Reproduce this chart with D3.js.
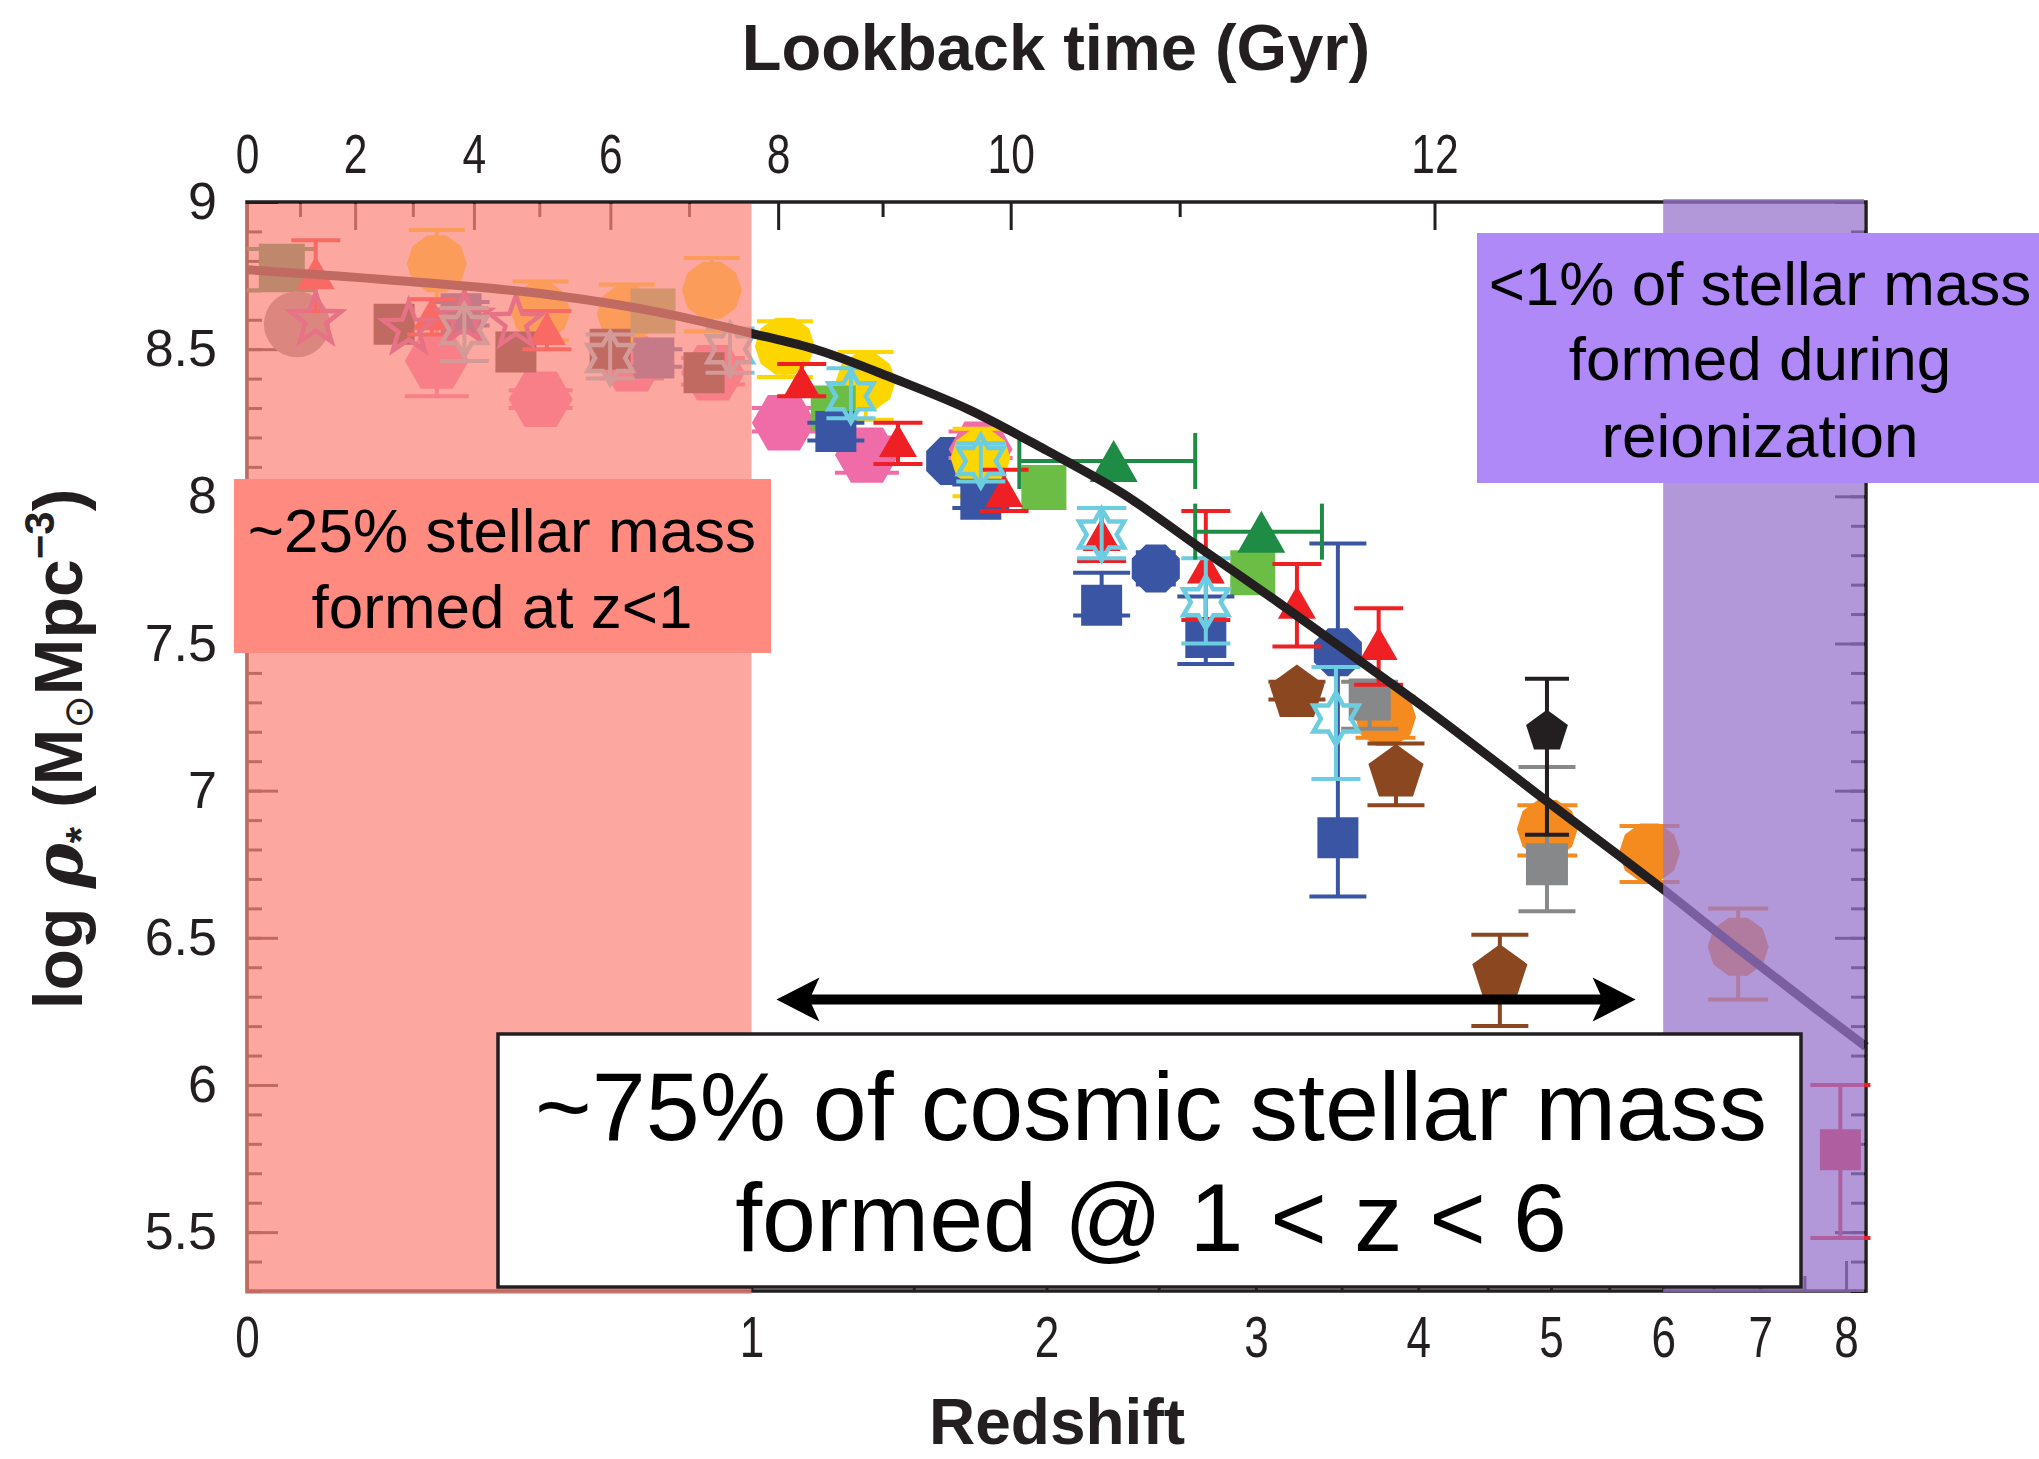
<!DOCTYPE html>
<html>
<head>
<meta charset="utf-8">
<script src="https://cdn.jsdelivr.net/npm/d3@7"></script>
<style>
  body{margin:0;background:#fff;}
  svg{display:block;}
</style>
</head>
<body>
<svg id="chart" width="2039" height="1459"></svg>
<script>
// points are [redshift, log rho*, lower, upper]
const yellowOct = [
  [0.298, 8.79, 8.67, 8.905],
  [0.497, 8.63, 8.53, 8.73],
  [0.685, 8.62, 8.52, 8.72],
  [0.894, 8.70, 8.56, 8.81],
  [1.094, 8.51, 8.405, 8.595],
  [1.34, 8.39, 8.26, 8.49],
  [1.74, 8.13, 8.00, 8.23]
];
const orangeOct = [
  [3.78, 7.25, 7.18, 7.32],
  [4.97, 6.87, 6.78, 6.95],
  [5.87, 6.79, 6.69, 6.88],
  [6.76, 6.47, 6.29, 6.60]
];
const pinkHex = [
  [0.298, 8.46, 8.34, 8.58],
  [0.497, 8.33, 8.30, 8.36],
  [0.697, 8.45, 8.40, 8.49],
  [0.897, 8.42, 8.38, 8.47],
  [1.091, 8.25, 8.22, 8.30],
  [1.344, 8.14, 8.08, 8.20],
  [1.74, 8.16, 8.13, 8.22]
];
const redTri = [
  [0.099, 8.76, 8.63, 8.87],
  [0.289, 8.62, 8.55, 8.67],
  [0.51, 8.57, 8.50, 8.63],
  [1.143, 8.39, 8.34, 8.45],
  [1.446, 8.19, 8.11, 8.25],
  [1.83, 8.02, 7.95, 8.09],
  [2.236, 7.87, 7.78, 7.96],
  [2.734, 7.76, 7.58, 7.95],
  [3.232, 7.64, 7.49, 7.77],
  [3.735, 7.50, 7.36, 7.62]
];
const redSq = [[7.93, 5.78, 5.48, 6.0]];
const lgreenSq = [
  [0.747, 8.63],
  [1.238, 8.30],
  [1.989, 8.03],
  [2.983, 7.74]
];
// [z, log rho*, z low, z high]
const dgreenTri = [
  [2.29, 8.12, 1.89, 2.68],
  [3.03, 7.88, 2.68, 3.38]
];
const dgreenSq = [[0.049, 8.78, 8.70, 8.84]];
const blueSq = [
  [0.342, 8.62, 8.58, 8.66],
  [0.749, 8.47, 8.44, 8.50],
  [1.246, 8.22, 8.19, 8.25],
  [1.741, 7.99, 7.96, 8.04],
  [2.236, 7.63, 7.595, 7.74],
  [2.734, 7.52, 7.43, 7.66],
  [3.477, 6.84, 6.64, 7.84]
];
const blueOct = [
  [1.628, 8.12],
  [2.486, 7.755, 7.70, 7.81],
  [3.477, 7.47]
];
const cyanStar = [
  [0.348, 8.565, 8.46, 8.64],
  [0.647, 8.47, 8.40, 8.55],
  [0.942, 8.50, 8.42, 8.57],
  [1.293, 8.34, 8.265, 8.435],
  [1.741, 8.12, 8.05, 8.18],
  [2.236, 7.87, 7.79, 7.96],
  [2.734, 7.64, 7.50, 7.79],
  [3.465, 7.245, 7.04, 7.42]
];
const magStar = [
  [0.099, 8.60],
  [0.249, 8.57],
  [0.348, 8.605],
  [0.447, 8.59]
];
const blackSq = [
  [0.224, 8.585],
  [0.447, 8.49],
  [0.647, 8.50],
  [0.874, 8.42]
];
const greyCirc = [[0.071, 8.585]];
const brownPent = [
  [3.232, 7.33, 7.31, 7.37],
  [3.849, 7.06, 6.95, 7.16],
  [4.593, 6.38, 6.20, 6.51]
];
const blackPent = [[4.967, 7.20, 6.85, 7.38]];
const greySq = [
  [3.677, 7.31, 7.21, 7.37],
  [4.967, 6.75, 6.59, 7.08]
];

// fitted cosmic stellar mass density
const fitZ   = [0, 0.25, 0.52, 0.76, 1.0, 1.19, 1.43, 1.70, 2.0, 2.33, 2.70, 3.11, 3.55, 4.07, 4.96, 5.98, 6.73, 7.62, 8.25];
const fitRho = [8.77, 8.73, 8.684, 8.626, 8.554, 8.497, 8.401, 8.293, 8.156, 8.01, 7.827, 7.646, 7.466, 7.272, 6.966, 6.67, 6.47, 6.262, 6.13];

// axis ticks
const zLabels = [0, 1, 2, 3, 4, 5, 6, 7, 8];
const zMinor = [1.5, 2.5, 3.5, 4.5, 5.5, 6.5, 7.5];
const lookMajor = [0, 2, 4, 6, 8, 10, 12];
const lookMinor = [1, 3, 5, 7, 9, 11];
const rhoMajor = [5.5, 6, 6.5, 7, 7.5, 8, 8.5, 9];

// annotations
const arrowZ = [1.07, 5.74];
const arrowRho = 6.29;
const pinkLines = ['~25% stellar mass', 'formed at z<1'];
const purpleLines = ['<1% of stellar mass', 'formed during', 'reionization'];
const whiteLines = ['~75% of cosmic stellar mass', 'formed @ 1 < z < 6'];


const svg = d3.select('#chart');
const ink = '#231f20';
const sans = "'Liberation Sans', Arial, Helvetica, sans-serif";

const L = 247, R = 1866, T = 202, B = 1291;
const x = d3.scaleLog().domain([1, 9.25]).range([L, R]);
const y = d3.scaleLinear().domain([5.3, 9]).range([B, T]);
const xz = z => x(1 + z);

// flat LCDM, H0=70, Om=0.3 -> redshift at a given lookback time
const tH = 11.13, kL = 1.5275;
const age0 = tH * Math.asinh(kL);
function zOfLookback(t) {
  const u = Math.sinh((age0 - t) / tH) / kL;
  return Math.pow(u, -2 / 3) - 1;
}

// ---- marker shapes
function poly(n, r, a0) {
  const pts = d3.range(n).map(k => {
    const a = (a0 + k * 360 / n) * Math.PI / 180;
    return [r * Math.cos(a), r * Math.sin(a)];
  });
  return 'M' + pts.join('L') + 'Z';
}
function star(n, ro, ri) {
  const pts = d3.range(2 * n).map(k => {
    const a = (-90 + k * 180 / n) * Math.PI / 180, rr = k % 2 ? ri : ro;
    return [rr * Math.cos(a), rr * Math.sin(a)];
  });
  return 'M' + pts.join('L') + 'Z';
}
const square = s => `M${-s/2},${-s/2}h${s}v${s}h${-s}Z`;
const tri = (w, h) => `M0,${-h/2}L${w/2},${h/2}L${-w/2},${h/2}Z`;
const circle = r => `M${r},0A${r},${r} 0 1 1 ${-r},0A${r},${r} 0 1 1 ${r},0Z`;

// ---- axes
function styleAxis(g) {
  g.select('.domain').remove();
  g.selectAll('.tick line').attr('stroke', ink).attr('stroke-width', 3);
  g.selectAll('text').attr('fill', ink).attr('font-family', sans);
}

svg.append('g').attr('transform', `translate(${L},0)`)
  .call(d3.axisLeft(y).tickValues(d3.range(53, 91).map(d => d / 10)).tickSize(-15).tickFormat(''))
  .call(styleAxis);
svg.append('g').attr('transform', `translate(${L},0)`)
  .call(d3.axisLeft(y).tickValues(rhoMajor).tickSize(-31).tickPadding(30).tickFormat(d3.format('')))
  .call(styleAxis)
  .call(g => g.selectAll('text').attr('font-size', 52));
svg.append('g').attr('transform', `translate(${R},0)`)
  .call(d3.axisRight(y).tickValues(d3.range(53, 91).map(d => d / 10)).tickSize(-15).tickFormat(''))
  .call(styleAxis);
svg.append('g').attr('transform', `translate(${R},0)`)
  .call(d3.axisRight(y).tickValues(rhoMajor).tickSize(-31).tickFormat(''))
  .call(styleAxis);

svg.append('g').attr('transform', `translate(0,${B})`)
  .call(d3.axisBottom(x).tickValues(zMinor.map(z => 1 + z)).tickSize(-15).tickFormat(''))
  .call(styleAxis);
svg.append('g').attr('transform', `translate(0,${B})`)
  .call(d3.axisBottom(x).tickValues(zLabels.map(z => 1 + z)).tickSize(-30).tickPadding(25)
    .tickFormat(d => Math.round(d - 1)))
  .call(styleAxis)
  .call(g => g.selectAll('text').attr('font-size', 58).attr('transform', 'scale(0.76,1)'));

svg.append('g').attr('transform', `translate(0,${T})`)
  .call(d3.axisTop(x).tickValues(lookMinor.map(t => 1 + zOfLookback(t))).tickSize(-15).tickFormat(''))
  .call(styleAxis);
svg.append('g').attr('transform', `translate(0,${T})`)
  .call(d3.axisTop(x).tickValues(lookMajor.map(t => 1 + zOfLookback(t))).tickSize(-28).tickPadding(29)
    .tickFormat((d, i) => lookMajor[i]))
  .call(styleAxis)
  .call(g => g.selectAll('text').attr('font-size', 56).attr('transform', 'scale(0.76,1)'));

svg.append('rect')
  .attr('x', L).attr('y', T).attr('width', R - L).attr('height', B - T)
  .attr('fill', 'none').attr('stroke', ink).attr('stroke-width', 3.5);

// ---- data
const plot = svg.append('g');

const series = [
  {data: blueOct,   shape: poly(8, 26, 22.5),  color: '#3a55a4', cap: 40},
  {data: pinkHex,   shape: poly(6, 32, 0),     color: '#f06ca8', cap: 64},
  {data: yellowOct, shape: poly(10, 30, 0),    color: '#fdd600', cap: 56},
  {data: orangeOct, shape: poly(10, 30.5, 0),  color: '#f58a1f', cap: 60},
  {data: lgreenSq,  shape: square(45),         color: '#6bbd45', cap: 50},
  {data: dgreenSq,  shape: square(46),         color: '#1e8c44', cap: 70},
  {data: blueSq,    shape: square(41),         color: '#3a55a4', cap: 57},
  {data: blackSq,   shape: square(41),         color: ink,       cap: 50},
  {data: greySq,    shape: square(42),         color: '#87888a', cap: 57},
  {data: redSq,     shape: square(41),         color: '#ee2024', cap: 60},
  {data: greyCirc,  shape: circle(33),         color: '#87888a', cap: 60},
  {data: redTri,    shape: tri(38, 33),        color: '#ee2024', cap: 49},
  {data: brownPent, shape: poly(5, 29, -90),   color: '#8b4720', cap: 57},
  {data: blackPent, shape: poly(5, 22, -90),   color: ink,       cap: 44},
  {data: magStar,   shape: star(5, 27, 11),    color: '#b03aa0', cap: 50, outline: true},
  {data: cyanStar,  shape: star(6, 26, 15),    color: '#6dcde0', cap: 49, outline: true}
];

series.forEach(s => {
  const g = plot.append('g');
  const withErr = s.data.filter(d => d[2] != null);
  const eb = g.selectAll('g.err').data(withErr).join('g')
    .attr('stroke', s.color).attr('stroke-width', 4).attr('fill', 'none');
  eb.append('line')
    .attr('x1', d => xz(d[0])).attr('x2', d => xz(d[0]))
    .attr('y1', d => y(d[2])).attr('y2', d => y(d[3]));
  eb.append('line')
    .attr('x1', d => xz(d[0]) - s.cap / 2).attr('x2', d => xz(d[0]) + s.cap / 2)
    .attr('y1', d => y(d[2])).attr('y2', d => y(d[2]));
  eb.append('line')
    .attr('x1', d => xz(d[0]) - s.cap / 2).attr('x2', d => xz(d[0]) + s.cap / 2)
    .attr('y1', d => y(d[3])).attr('y2', d => y(d[3]));

  g.selectAll('path.mk').data(s.data).join('path')
    .attr('class', 'mk')
    .attr('d', s.shape)
    .attr('transform', d => `translate(${xz(d[0])},${y(d[1])})`)
    .attr('fill', s.outline ? 'none' : s.color)
    .attr('stroke', s.outline ? s.color : 'none')
    .attr('stroke-width', s.outline ? 4.5 : 0)
    .attr('stroke-linejoin', 'miter');
});

// green triangles carry redshift-bin bars
{
  const g = plot.append('g');
  const eb = g.selectAll('g.err').data(dgreenTri).join('g')
    .attr('stroke', '#1e8c44').attr('stroke-width', 4);
  eb.append('line')
    .attr('x1', d => xz(d[2])).attr('x2', d => xz(d[3]))
    .attr('y1', d => y(d[1])).attr('y2', d => y(d[1]));
  [2, 3].forEach(k => {
    eb.append('line')
      .attr('x1', d => xz(d[k])).attr('x2', d => xz(d[k]))
      .attr('y1', d => y(d[1]) - 28).attr('y2', d => y(d[1]) + 28);
  });
  g.selectAll('path.mk').data(dgreenTri).join('path')
    .attr('d', tri(48, 42))
    .attr('transform', d => `translate(${xz(d[0])},${y(d[1])})`)
    .attr('fill', '#1e8c44');
}

// fit curve
const fit = fitZ.map((z, i) => [z, fitRho[i]]);
svg.append('path')
  .datum(fit)
  .attr('d', d3.line().x(d => xz(d[0])).y(d => y(d[1])).curve(d3.curveMonotoneX))
  .attr('fill', 'none').attr('stroke', ink).attr('stroke-width', 9)
  .attr('stroke-linejoin', 'round');

// shaded epochs
svg.append('rect')
  .attr('x', L - 2).attr('y', T + 2).attr('width', xz(1) - L + 2).attr('height', B - T + 1)
  .attr('fill', 'rgb(251,135,123)').attr('fill-opacity', 0.73);
svg.append('rect')
  .attr('x', xz(6)).attr('y', T - 3).attr('width', R - 2 - xz(6)).attr('height', B - T + 4)
  .attr('fill', 'rgb(152,116,204)').attr('fill-opacity', 0.74);

// ---- annotation boxes
function box(rx, ry, rw, rh, fill, lines, cx, baselines, size, stroke) {
  svg.append('rect').attr('x', rx).attr('y', ry).attr('width', rw).attr('height', rh)
    .attr('fill', fill).attr('stroke', stroke || 'none').attr('stroke-width', stroke ? 3.5 : 0);
  svg.append('g').selectAll('text').data(lines).join('text')
    .attr('x', cx).attr('y', (d, i) => baselines[i])
    .attr('text-anchor', 'middle')
    .attr('font-family', sans).attr('font-size', size).attr('fill', '#000')
    .text(d => d);
}
box(234, 479, 537, 174, '#ff8a80', pinkLines, 502, [552, 628], 62);
box(1477, 233, 570, 250, '#b089f9', purpleLines, 1760, [305, 380, 457], 62);

// arrow
{
  const ay = y(arrowRho), ax1 = xz(arrowZ[0]), ax2 = xz(arrowZ[1]);
  svg.append('line').attr('x1', ax1 + 20).attr('x2', ax2 - 20).attr('y1', ay).attr('y2', ay)
    .attr('stroke', '#000').attr('stroke-width', 10);
  const head = (tip, dir) => `M${tip},${ay}L${tip - dir * 43},${ay - 22}L${tip - dir * 33},${ay}L${tip - dir * 43},${ay + 22}Z`;
  svg.append('path').attr('d', head(ax1, -1)).attr('fill', '#000');
  svg.append('path').attr('d', head(ax2, 1)).attr('fill', '#000');
}

box(498, 1034, 1303, 253, '#fff', whiteLines, 1151, [1140, 1251], 97, ink);

// ---- titles
svg.append('text').attr('x', 1056).attr('y', 70).attr('text-anchor', 'middle')
  .attr('font-family', sans).attr('font-weight', 'bold').attr('font-size', 65).attr('fill', ink)
  .text('Lookback time (Gyr)');
svg.append('text').attr('x', 1057).attr('y', 1444).attr('text-anchor', 'middle')
  .attr('font-family', sans).attr('font-weight', 'bold').attr('font-size', 64).attr('fill', ink)
  .text('Redshift');

const yt = svg.append('text')
  .attr('transform', 'translate(82,749) rotate(-90)')
  .attr('text-anchor', 'middle')
  .attr('font-family', sans).attr('font-weight', 'bold').attr('font-size', 68).attr('fill', ink);
yt.append('tspan').text('log ');
yt.append('tspan').attr('font-style', 'italic').attr('font-family', "'DejaVu Serif', serif").text('ρ');
yt.append('tspan').attr('font-size', 42).attr('dy', 13).text('*');
yt.append('tspan').attr('dy', -13).text(' (M');
yt.append('tspan').attr('font-size', 40).attr('dy', 10).attr('font-weight', 'normal')
  .attr('font-family', "'DejaVu Sans', sans-serif").text('⊙');
yt.append('tspan').attr('dy', -10).text('Mpc');
yt.append('tspan').attr('font-size', 42).attr('dy', -28).text('−3');
yt.append('tspan').attr('dy', 28).text(')');
</script>
</body>
</html>
